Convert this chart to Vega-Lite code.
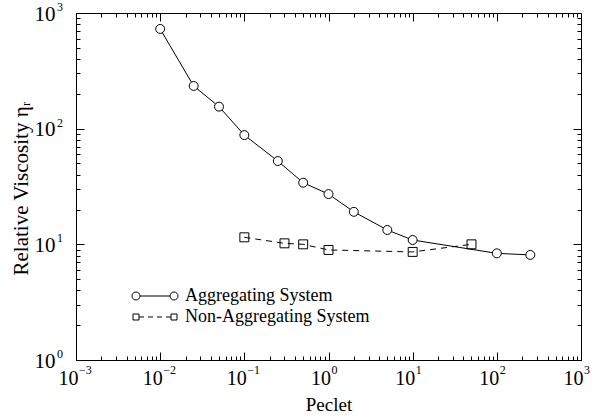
{
  "$schema": "https://vega.github.io/schema/vega-lite/v6.json",
  "width": 505,
  "height": 347,
  "autosize": "none",
  "padding": {"left": 76, "top": 13, "right": 25, "bottom": 58},
  "background": "white",
  "config": {
    "view": {"stroke": null},
    "font": "Liberation Serif",
    "axis": {"domainColor": "black", "tickColor": "black", "labelColor": "black", "titleColor": "black", "grid": false, "labelFont": "Liberation Serif", "titleFont": "Liberation Serif", "titleFontWeight": "normal", "labelFlush": false, "labelOverlap": false, "labelBound": false},
    "legend": {"labelFont": "Liberation Serif", "labelFontSize": 18, "labelColor": "black", "labelLimit": 0, "title": null, "padding": 0, "symbolSize": 100, "symbolStrokeColor": "black", "symbolStrokeWidth": 1, "symbolFillColor": "transparent", "labelOffset": 21}
  },
  "data": {
    "values": [
      {"series": "Aggregating System", "pe": 0.01, "eta": 728},
      {"series": "Aggregating System", "pe": 0.025, "eta": 234},
      {"series": "Aggregating System", "pe": 0.05, "eta": 155},
      {"series": "Aggregating System", "pe": 0.1, "eta": 88},
      {"series": "Aggregating System", "pe": 0.25, "eta": 52.5},
      {"series": "Aggregating System", "pe": 0.5, "eta": 34.1},
      {"series": "Aggregating System", "pe": 1, "eta": 27.2},
      {"series": "Aggregating System", "pe": 2, "eta": 19.1},
      {"series": "Aggregating System", "pe": 5, "eta": 13.3},
      {"series": "Aggregating System", "pe": 10, "eta": 10.9},
      {"series": "Aggregating System", "pe": 100, "eta": 8.36},
      {"series": "Aggregating System", "pe": 250, "eta": 8.1},
      {"series": "Non-Aggregating System", "pe": 0.1, "eta": 11.5},
      {"series": "Non-Aggregating System", "pe": 0.3, "eta": 10.2},
      {"series": "Non-Aggregating System", "pe": 0.5, "eta": 10.0},
      {"series": "Non-Aggregating System", "pe": 1, "eta": 8.94},
      {"series": "Non-Aggregating System", "pe": 10, "eta": 8.6},
      {"series": "Non-Aggregating System", "pe": 50, "eta": 10.0}
    ]
  },
  "resolve": {"axis": {"x": "independent", "y": "independent"}},
  "layer": [
    {
      "transform": [{"filter": "datum.series === 'Aggregating System'"}],
      "mark": {"type": "line", "strokeWidth": 1},
      "encoding": {
        "x": {"field": "pe", "type": "quantitative", "scale": {"type": "log", "domain": [0.001, 1000], "nice": false},
          "axis": {"orient": "bottom", "title": "Peclet", "titleFontSize": 19, "titleY": 50, "titleBaseline": "alphabetic",
            "values": [0.001,0.002,0.003,0.004,0.005,0.006,0.007,0.008,0.009,0.01,0.02,0.03,0.04,0.05,0.06,0.07,0.08,0.09,0.1,0.2,0.3,0.4,0.5,0.6,0.7,0.8,0.9,1,2,3,4,5,6,7,8,9,10,20,30,40,50,60,70,80,90,100,200,300,400,500,600,700,800,900,1000],
            "tickSize": {"condition": {"test": "abs(log(datum.value)/LN10 - round(log(datum.value)/LN10)) < 0.001", "value": -8}, "value": -4},
            "labelExpr": "abs(log(datum.value)/LN10 - round(log(datum.value)/LN10)) < 0.001 ? '10' : ''",
            "labelFontSize": 20, "labelAlign": "right", "labelOffset": 2, "labelBaseline": "alphabetic", "labelPadding": 32}},
        "y": {"field": "eta", "type": "quantitative", "scale": {"type": "log", "domain": [1, 1000], "nice": false},
          "axis": {"orient": "left", "title": "Relative Viscosity ηᵣ", "titleFontSize": 21, "titleX": -49, "titleY": 175, "titleAngle": -90, "titleBaseline": "alphabetic",
            "values": [1,2,3,4,5,6,7,8,9,10,20,30,40,50,60,70,80,90,100,200,300,400,500,600,700,800,900,1000],
            "tickSize": {"condition": {"test": "abs(log(datum.value)/LN10 - round(log(datum.value)/LN10)) < 0.001", "value": -8}, "value": -4},
            "labelExpr": "abs(log(datum.value)/LN10 - round(log(datum.value)/LN10)) < 0.001 ? '10' : ''",
            "labelFontSize": 21, "labelAlign": "right", "labelBaseline": "alphabetic", "labelOffset": 7, "labelPadding": 29}},
        "color": {"field": "series", "type": "nominal", "scale": {"domain": ["Aggregating System"], "range": ["black"]},
          "legend": {"orient": "none", "legendX": 70, "legendY": 274,
            "symbolType": "M-4.6,0A0.8,0.8,0,1,0,-3,0A0.8,0.8,0,1,0,-4.6,0M-3,0L3,0M3,0A0.8,0.8,0,1,0,4.6,0A0.8,0.8,0,1,0,3,0"}}
      }
    },
    {
      "transform": [{"filter": "datum.series === 'Non-Aggregating System'"}],
      "mark": {"type": "line", "color": "black", "strokeWidth": 1, "strokeDash": [6, 5]},
      "encoding": {
        "x": {"field": "pe", "type": "quantitative",
          "axis": {"orient": "top", "title": null, "labels": false,
            "values": [0.001,0.002,0.003,0.004,0.005,0.006,0.007,0.008,0.009,0.01,0.02,0.03,0.04,0.05,0.06,0.07,0.08,0.09,0.1,0.2,0.3,0.4,0.5,0.6,0.7,0.8,0.9,1,2,3,4,5,6,7,8,9,10,20,30,40,50,60,70,80,90,100,200,300,400,500,600,700,800,900,1000],
            "tickSize": {"condition": {"test": "abs(log(datum.value)/LN10 - round(log(datum.value)/LN10)) < 0.001", "value": -8}, "value": -4}}},
        "y": {"field": "eta", "type": "quantitative",
          "axis": {"orient": "right", "title": null, "labels": false,
            "values": [1,2,3,4,5,6,7,8,9,10,20,30,40,50,60,70,80,90,100,200,300,400,500,600,700,800,900,1000],
            "tickSize": {"condition": {"test": "abs(log(datum.value)/LN10 - round(log(datum.value)/LN10)) < 0.001", "value": -8}, "value": -4}}},
        "opacity": {"field": "series", "type": "nominal", "scale": {"domain": ["Non-Aggregating System"], "range": [1]},
          "legend": {"orient": "none", "legendX": 70, "legendY": 295, "symbolDash": [],
            "symbolType": "M-4.4,-0.6H-3.2V0.6H-4.4ZM-3.2,0H-2.2M-1.4,0H-0.4M0.4,0H1.4M2.2,0H3.2M3.2,-0.6H4.4V0.6H3.2Z"}}
      }
    },
    {
      "mark": {"type": "point", "stroke": "black", "strokeWidth": 1, "size": 80, "opacity": 1, "filled": false},
      "encoding": {
        "x": {"field": "pe", "type": "quantitative",
          "axis": {"orient": "bottom", "title": null, "domain": false, "ticks": false, "tickSize": 0,
            "values": [0.001, 0.01, 0.1, 1, 10, 100, 1000],
            "labelExpr": "replace(format(round(log(datum.value)/LN10), 'd'), '-', '−')",
            "labelFontSize": 12, "labelAlign": "left", "labelOffset": 2.5, "labelBaseline": "alphabetic", "labelPadding": 13}},
        "y": {"field": "eta", "type": "quantitative",
          "axis": {"orient": "left", "title": null, "domain": false, "ticks": false, "tickSize": 0,
            "values": [1, 10, 100, 1000],
            "labelExpr": "format(round(log(datum.value)/LN10), 'd')",
            "labelFontSize": 12, "labelAlign": "left", "labelBaseline": "alphabetic", "labelOffset": -2.5, "labelPadding": 19.5}},
        "shape": {"field": "series", "type": "nominal",
          "scale": {"domain": ["Aggregating System", "Non-Aggregating System"], "range": ["circle", "square"]},
          "legend": null},
        "fill": {"condition": {"test": "datum.series === 'Aggregating System'", "value": "white"}, "value": "transparent"}
      }
    }
  ]
}
